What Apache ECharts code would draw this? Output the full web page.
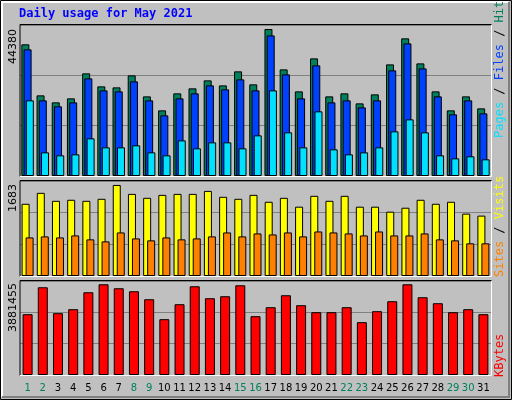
<!DOCTYPE html>
<html><head><meta charset="utf-8">
<script src="https://cdn.jsdelivr.net/npm/echarts@6/dist/echarts.min.js"></script>
<style>html,body{margin:0;padding:0;background:#fff}#c{width:512px;height:400px}</style>
</head><body><div id="c"></div>
<script>
const days = Array.from({length:31},(_,i)=>String(i+1));
const weekendDays = ['1','2','8','9','15','16','22','23','29','30'];
const hits = [39750,24350,22240,23440,30990,27060,26760,30380,24040,19820,24950,26460,28870,27360,31590,27670,44380,32190,25550,35510,24040,24950,21930,24650,33700,41550,34000,25550,19820,24040,20420];
const files = [38230,22840,21030,22230,29480,25850,25550,28570,22840,18310,23440,24950,27360,26160,29170,25850,42450,30680,23440,33400,22230,22840,20720,22840,31890,40040,32490,24040,18610,22840,18910];
const pages = [22840,7140,6240,6540,11370,8650,8650,9260,7140,6240,10760,8350,10160,10160,8350,12270,25850,13180,8650,19520,8050,6540,7140,8650,13480,17100,13180,6240,5330,5940,5030];
const visits = [1335,1537,1390,1409,1390,1427,1683,1518,1445,1500,1518,1518,1573,1464,1427,1500,1372,1445,1281,1482,1390,1482,1281,1281,1189,1262,1409,1335,1372,1153,1116];
const sites = [713,732,713,750,677,640,805,695,659,713,677,695,732,805,732,787,768,805,732,823,805,787,750,823,750,750,787,677,659,604,604];
const kbytes = [2601900,3753550,2644550,2815160,3540280,3881455,3710900,3582940,3241700,2388620,3028430,3796150,3284360,3369670,3838800,2516590,2900470,3412330,2985780,2687210,2687210,2900470,2260660,2729860,3156400,3881455,3327010,3071100,2687210,2815160,2601900];
const maxLabels = ['44380','1683','3881455'];
const title = 'Daily usage for May 2021';

const C = {hits:'#00805c', files:'#0040ff', pages:'#00e0ff', visits:'#ffff00', sites:'#ff8000', kb:'#ff0000'};
const chart = echarts.init(document.getElementById('c'));
const grids = [
  {left:20, top:25, width:471, height:151},
  {left:20, top:181, width:471, height:95},
  {left:20, top:281, width:471, height:94}
];
const maxes = [45588, 1756, 4022000];
const split = {show:true, lineStyle:{color:'#808080', width:1}};
const xAxes = grids.map((g,i)=>({type:'category', gridIndex:i, data:days,
  axisLine:{show:false}, axisTick:{show:false},
  axisLabel:{show:i===2, interval:0, margin:8, fontFamily:'DejaVu Sans', fontSize:10, color:'#000',
    formatter:v=>weekendDays.includes(v)?'{g|'+v+'}':v, rich:{g:{color:'#00805c', fontFamily:'DejaVu Sans', fontSize:10}}}}));
const yAxes = grids.map((g,i)=>({type:'value', gridIndex:i, min:0, max:maxes[i], interval:maxes[i]/3,
  axisLabel:{show:false}, axisLine:{show:false}, axisTick:{show:false}, splitLine:split}));
const bs = {borderColor:'#000', borderWidth:1};
const series = [
  {type:'bar', xAxisIndex:0, yAxisIndex:0, data:hits, barWidth:8, barGap:'-72%', itemStyle:{color:C.hits,...bs}},
  {type:'bar', xAxisIndex:0, yAxisIndex:0, data:files, barWidth:8, barGap:'-72%', itemStyle:{color:C.files,...bs}},
  {type:'bar', xAxisIndex:0, yAxisIndex:0, data:pages, barWidth:8, barGap:'-72%', itemStyle:{color:C.pages,...bs}},
  {type:'bar', xAxisIndex:1, yAxisIndex:1, data:visits, barWidth:8, barGap:'-50%', itemStyle:{color:C.visits,...bs}},
  {type:'bar', xAxisIndex:1, yAxisIndex:1, data:sites, barWidth:8, barGap:'-50%', itemStyle:{color:C.sites,...bs}},
  {type:'bar', xAxisIndex:2, yAxisIndex:2, data:kbytes, barWidth:10, itemStyle:{color:C.kb,...bs}}
];
const mono = 'DejaVu Sans Mono';
const graphic = [
  {type:'rect', z:-10, shape:{x:0.5,y:0.5,width:511,height:399}, style:{fill:'#c0c0c0', stroke:'#000', lineWidth:1}},
  {type:'polyline', z:-9, shape:{points:[[2,397],[2,2],[509,2]]}, style:{stroke:'#fff', fill:null, lineWidth:2}},
  {type:'polyline', z:-9, shape:{points:[[509,2],[509,397],[2,397]]}, style:{stroke:'#808080', fill:null, lineWidth:2}},
  {type:'text', left:19, top:8, style:{text:title, font:'bold 12px "'+mono+'"', fill:'#0000ff'}}
];
grids.forEach((g,i)=>{
  graphic.push({type:'polyline', z:5, shape:{points:[[g.left,g.top+g.height+0.5],[g.left,g.top-0.5],[g.left+g.width+0.5,g.top-0.5]]}, style:{stroke:'#000', fill:null, lineWidth:1}});
  graphic.push({type:'polyline', z:5, shape:{points:[[g.left+g.width+0.5,g.top],[g.left+g.width+0.5,g.top+g.height+0.5],[g.left,g.top+g.height+0.5]]}, style:{stroke:'#fff', fill:null, lineWidth:1}});
});
const lblY = [29, 184, 283];
maxLabels.forEach((t,i)=>graphic.push({type:'text', x:8, y:lblY[i], rotation:Math.PI/2,
  style:{text:t, font:'11px "DejaVu Sans"', fill:'#000', align:'right', verticalAlign:'top'}}));
function rlabel(yBottom, parts){
  graphic.push({type:'text', x:500, y:yBottom, rotation:Math.PI/2,
    style:{rich:Object.fromEntries(parts.map((p,k)=>['p'+k,{fill:p[1], font:'12px "'+mono+'"'}])),
      text:parts.map((p,k)=>'{p'+k+'|'+p[0]+'}').join(''), align:'left', verticalAlign:'middle'}});
}
rlabel(138, [['Pages',C.pages],[' / ','#000'],['Files',C.files],[' / ','#000'],['Hits',C.hits]]);
rlabel(277, [['Sites',C.sites],[' / ','#000'],['Visits',C.visits]]);
rlabel(377, [['KBytes',C.kb]]);
chart.setOption({animation:false, grid:grids, xAxis:xAxes, yAxis:yAxes, series, graphic});
</script></body></html>
